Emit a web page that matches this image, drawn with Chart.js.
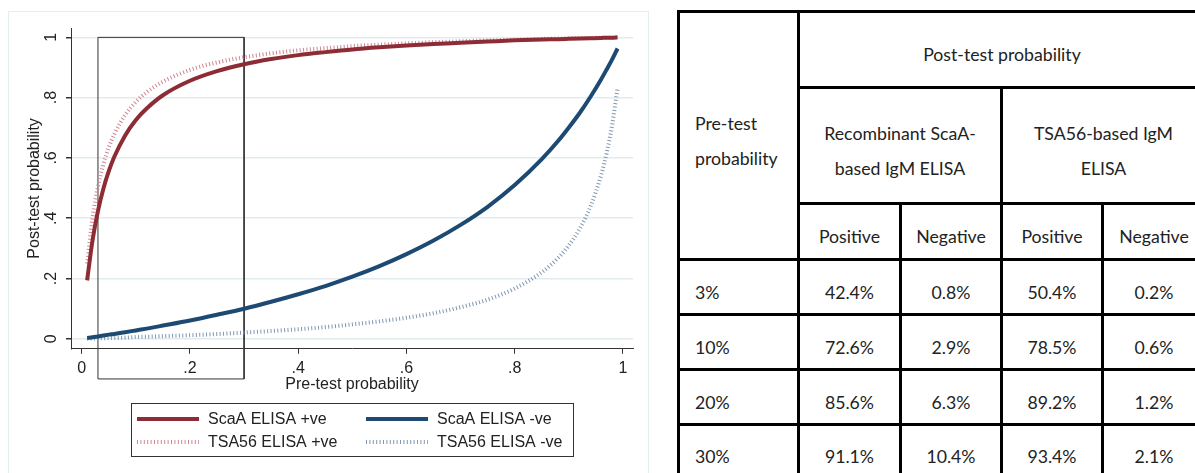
<!DOCTYPE html>
<html><head><meta charset="utf-8">
<script src="https://cdn.jsdelivr.net/npm/chart.js@4.4.1/dist/chart.umd.min.js"></script>
<style>
html,body{margin:0;padding:0;background:#fff;width:1195px;height:473px;overflow:hidden;position:relative}
#frame{position:absolute;left:8px;top:11px;width:641px;height:470px;border:1px solid #e4edf0;box-sizing:border-box}
#chart{position:absolute;left:0;top:0}
#tbl{position:absolute;left:677px;top:10px;display:grid;background:#000;padding:3px;gap:3px;
 grid-template-columns:117px 99px 98px 98px 100px;
 grid-template-rows:73px 113px 53px 52px 52px 52px 50px;
 font-family:Lato,"Open Sans",sans-serif;font-size:17.7px;color:#222}
#tbl>div{background:#fff;display:flex;align-items:center;justify-content:center;text-align:center;padding-top:10px;box-sizing:border-box;line-height:35px}
#tbl>div.l{justify-content:flex-start;text-align:left;padding-left:15px}
</style>
</head><body>
<div id="frame"></div>
<canvas id="chart" width="650" height="473"></canvas>
<div id="tbl"></div>
<script>
// ---- chart data ----
const pretest  = [0.01,0.02,0.03,0.04,0.05,0.06,0.08,0.10,0.12,0.15,0.20,0.25,0.30,0.35,0.40,0.45,0.50,0.55,0.60,0.65,0.70,0.75,0.80,0.85,0.88,0.90,0.92,0.94,0.96,0.97,0.98,0.99];
const scaAPos  = [0.194,0.327,0.424,0.498,0.556,0.603,0.674,0.726,0.764,0.808,0.856,0.888,0.911,0.928,0.941,0.951,0.960,0.967,0.973,0.978,0.982,0.986,0.990,0.993,0.994,0.995,0.996,0.997,0.998,0.999,0.999,1.000];
const tsa56Pos = [0.250,0.402,0.505,0.579,0.635,0.678,0.742,0.786,0.818,0.853,0.892,0.917,0.934,0.947,0.957,0.964,0.971,0.976,0.980,0.984,0.987,0.990,0.992,0.995,0.996,0.997,0.997,0.998,0.999,0.999,0.999,1.000];
const scaANeg  = [0.003,0.005,0.008,0.011,0.014,0.016,0.022,0.028,0.034,0.044,0.061,0.080,0.100,0.123,0.148,0.175,0.206,0.241,0.281,0.326,0.378,0.438,0.510,0.596,0.656,0.701,0.749,0.803,0.862,0.894,0.927,0.963];
const tsa56Neg = [0.001,0.001,0.002,0.002,0.003,0.003,0.004,0.006,0.007,0.009,0.012,0.016,0.021,0.026,0.032,0.039,0.048,0.058,0.070,0.085,0.105,0.130,0.167,0.221,0.268,0.310,0.365,0.439,0.546,0.618,0.710,0.832];
const boxX = [0.03, 0.30, 0.30, 0.03, 0.03];
const boxY = [1, 1, -0.133, -0.133, 1];
const xTicks = [0, 0.2, 0.4, 0.6, 0.8, 1];
const xTickLabels = ['0', '.2', '.4', '.6', '.8', '1'];
const yTicks = [0, 0.2, 0.4, 0.6, 0.8, 1];
const yTickLabels = ['0', '.2', '.4', '.6', '.8', '1'];
const seriesNames = ['ScaA ELISA +ve', 'TSA56 ELISA +ve', 'ScaA ELISA -ve', 'TSA56 ELISA -ve'];
const xTitle = 'Pre-test probability';
const yTitle = 'Post-test probability';

// ---- table data ----
const tblTitle = 'Post-test probability';
const tblRowHead = 'Pre-test probability';
const tblGroups = ['Recombinant ScaA-<br>based IgM ELISA', 'TSA56-based IgM<br>ELISA'];
const tblSub = ['Positive', 'Negative', 'Positive', 'Negative'];
const tblPre = ['3%', '10%', '20%', '30%'];
const tblScaAPos = ['42.4%', '72.6%', '85.6%', '91.1%'];
const tblScaANeg = ['0.8%', '2.9%', '6.3%', '10.4%'];
const tblTsaPos = ['50.4%', '78.5%', '89.2%', '93.4%'];
const tblTsaNeg = ['0.2%', '0.6%', '1.2%', '2.1%'];

// build table
(function(){
  const t = document.getElementById('tbl');
  function cell(html, r, c, cls){
    const d = document.createElement('div');
    d.innerHTML = '<span>' + html + '</span>';
    d.style.gridRow = r; d.style.gridColumn = c;
    if (cls) d.className = cls;
    t.appendChild(d);
  }
  cell(tblRowHead.replace(' ', '<br>'), '1 / 4', '1', 'l');
  cell(tblTitle, '1', '2 / 6');
  cell(tblGroups[0], '2', '2 / 4');
  cell(tblGroups[1], '2', '4 / 6');
  tblSub.forEach((s, i) => cell(s, '3', String(i + 2)));
  tblPre.forEach((p, i) => {
    const r = String(i + 4);
    cell(p, r, '1', 'l');
    cell(tblScaAPos[i], r, '2');
    cell(tblScaANeg[i], r, '3');
    cell(tblTsaPos[i], r, '4');
    cell(tblTsaNeg[i], r, '5');
  });
})();

const FONT = '"Liberation Sans", Arial, Helvetica, sans-serif';
const C_RED = '#8e2c36', C_RED_D = '#cf8692', C_BLUE = '#1d4a72', C_BLUE_D = '#7f97b2';

function pts(ys){ return pretest.map((p, i) => ({x: p, y: ys[i]})); }

const deco = {
  id: 'deco',
  afterDraw(chart){
    const {ctx, chartArea: a, scales: {x, y}} = chart;
    const ds = chart.data.datasets;
    ctx.save();
    ctx.fillStyle = '#222';
    ctx.font = '16px ' + FONT;
    ctx.textAlign = 'center'; ctx.textBaseline = 'middle';
    yTicks.forEach((v, i) => {
      ctx.save();
      ctx.translate(a.left - 19, y.getPixelForValue(v));
      ctx.rotate(-Math.PI / 2);
      ctx.fillText(yTickLabels[i], 0, 0);
      ctx.restore();
    });
    ctx.save();
    ctx.translate(a.left - 36, (a.top + a.bottom) / 2);
    ctx.rotate(-Math.PI / 2);
    ctx.fillText(yTitle, 0, 0);
    ctx.restore();
    ctx.fillText(xTitle, (a.left + a.right) / 2, a.bottom + 36);

    // legend
    const L = {x: 131, y: 403, w: 442, h: 53};
    ctx.strokeStyle = '#333'; ctx.lineWidth = 1;
    ctx.strokeRect(L.x + 0.5, L.y + 0.5, L.w, L.h);
    const order = [0, 2, 1, 3];
    order.forEach((di, k) => {
      const col = k % 2, row = Math.floor(k / 2);
      const sx = L.x + 6 + col * 229, sy = L.y + 16 + row * 23;
      const d = ds[di];
      ctx.save();
      ctx.strokeStyle = d.borderColor; ctx.lineWidth = d.borderWidth;
      ctx.setLineDash(d.borderDash || []);
      ctx.lineCap = 'butt';
      ctx.beginPath(); ctx.moveTo(sx, sy); ctx.lineTo(sx + 62, sy); ctx.stroke();
      ctx.restore();
      ctx.textAlign = 'left';
      ctx.fillStyle = '#222';
      ctx.fillText(d.label, sx + 71, sy + 1);
    });
    ctx.restore();
  }
};

new Chart(document.getElementById('chart'), {
  type: 'scatter',
  data: {
    datasets: [
      {label: seriesNames[0], data: pts(scaAPos), showLine: true, borderColor: C_RED, borderWidth: 4, pointRadius: 0, cubicInterpolationMode: 'monotone', order: 1},
      {label: seriesNames[1], data: pts(tsa56Pos), showLine: true, borderColor: C_RED_D, borderWidth: 4, borderDash: [1, 2.4], pointRadius: 0, cubicInterpolationMode: 'monotone', order: 3},
      {label: seriesNames[2], data: pts(scaANeg), showLine: true, borderColor: C_BLUE, borderWidth: 4, pointRadius: 0, cubicInterpolationMode: 'monotone', order: 2},
      {label: seriesNames[3], data: pts(tsa56Neg), showLine: true, borderColor: C_BLUE_D, borderWidth: 4, borderDash: [1, 2.4], pointRadius: 0, cubicInterpolationMode: 'monotone', order: 4},
      {label: 'box', data: boxX.map((v, i) => ({x: v, y: boxY[i]})), showLine: true, borderColor: '#333', borderWidth: 1, pointRadius: 0, clip: false, order: 5}
    ]
  },
  options: {
    responsive: false, animation: false, devicePixelRatio: 1,
    layout: {padding: {left: 66, top: 28, right: 17, bottom: 90}},
    plugins: {legend: {display: false}, tooltip: {enabled: false}},
    scales: {
      x: {
        type: 'linear', min: -0.0198, max: 1.0185,
        afterBuildTicks: s => { s.ticks = xTicks.map(v => ({value: v})); },
        ticks: {callback: (v, i) => xTickLabels[i], font: {family: FONT, size: 16}, color: '#222', padding: 5, maxRotation: 0, autoSkip: false},
        grid: {drawOnChartArea: false, drawTicks: true, tickLength: 5, tickColor: '#333'},
        border: {display: true, color: '#333', width: 1}
      },
      y: {
        type: 'linear', min: -0.033, max: 1.031,
        afterBuildTicks: s => { s.ticks = yTicks.map(v => ({value: v})); },
        ticks: {display: false},
        grid: {color: '#e2ecef', lineWidth: 1.5, drawTicks: true, tickLength: 5, tickColor: '#333'},
        border: {display: true, color: '#333', width: 1}
      }
    }
  },
  plugins: [deco]
});
</script>
</body></html>
